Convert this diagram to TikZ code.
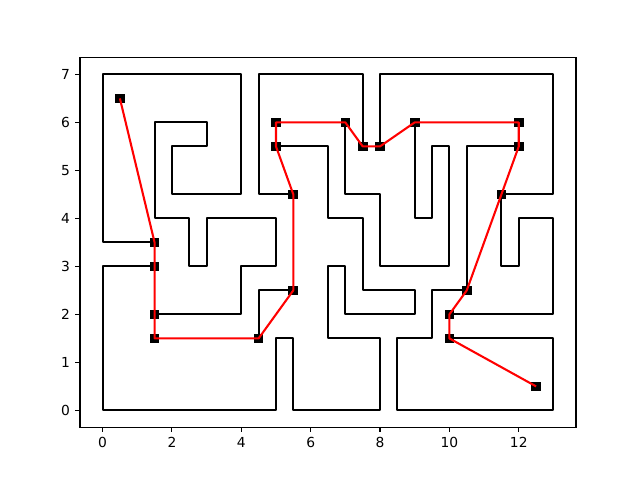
\documentclass[tikz,border=0pt]{standalone}
\usepackage{fontspec}
\setmainfont{DejaVu Sans}
\tikzset{
  wall/.style   ={draw=black,line width=1.5pt,line join=round},
  route/.style  ={draw=red,line width=1.5pt,line join=round},
  waypt/.style  ={rectangle,draw=black,fill=black,line width=1pt,
                  minimum size=6pt,inner sep=0pt},
  spine/.style  ={draw=black,line width=0.8pt},
  ticklbl/.style={inner sep=0pt,font=\fontsize{10}{12}\selectfont}
}

\begin{document}
\begin{tikzpicture}[x=0.8810cm, y=1.2192cm]
  \useasboundingbox (-2.9566,-1.45) rectangle (15.4952,8.55);

  % maze walls
  \draw [wall] (1.5,3.5) -- (0,3.5) -- (0,7) -- (4,7) -- (4,4.5) -- (2,4.5) -- (2,5.5)
               -- (3,5.5) -- (3,6) -- (1.5,6) -- (1.5,4) -- (2.5,4) -- (2.5,3) -- (3,3)
               -- (3,4) -- (5,4) -- (5,3) -- (4,3) -- (4,2) -- (1.5,2);
  \draw [wall] (1.5,3) -- (0,3) -- (0,0) -- (5,0) -- (5,1.5) -- (5.5,1.5) -- (5.5,0)
               -- (8,0) -- (8,1.5) -- (6.5,1.5) -- (6.5,3) -- (7,3) -- (7,2) -- (9,2)
               -- (9,2.5) -- (7.5,2.5) -- (7.5,4) -- (6.5,4) -- (6.5,5.5) -- (5,5.5);
  \draw [wall] (4.5,1.5) -- (4.5,2.5) -- (5.5,2.5);
  \draw [wall] (5.5,4.5) -- (4.5,4.5) -- (4.5,7) -- (7.5,7) -- (7.5,5.5);
  \draw [wall] (7,6) -- (7,4.5) -- (8,4.5) -- (8,3) -- (10,3) -- (10,5.5) -- (9.5,5.5)
               -- (9.5,4) -- (9,4) -- (9,6);
  \draw [wall] (8,5.5) -- (8,7) -- (13,7) -- (13,4.5) -- (11.5,4.5) -- (11.5,3) -- (12,3)
               -- (12,4) -- (13,4) -- (13,2) -- (10,2);
  \draw [wall] (12,5.5) -- (10.5,5.5) -- (10.5,2.5) -- (9.5,2.5) -- (9.5,1.5) -- (8.5,1.5)
               -- (8.5,0) -- (13,0) -- (13,1.5) -- (10,1.5);

  % path through the maze
  \foreach \px/\py [count=\i] in {0.5/6.5, 1.5/3.5, 1.5/3, 1.5/2, 1.5/1.5, 4.5/1.5,
      5.5/2.5, 5.5/4.5, 5/5.5, 5/6, 7/6, 7.5/5.5, 8/5.5, 9/6, 12/6, 12/5.5,
      11.5/4.5, 10.5/2.5, 10/2, 10/1.5, 12.5/0.5}
    \node [waypt] (w\i) at (\px,\py) {};
  \draw [route] (w1.center) \foreach \i in {2,...,21} { -- (w\i.center) };

  % axes
  \draw [spine] (-0.65,-0.35) rectangle (13.65,7.35);
  \foreach \x in {0,2,...,12} {
    \draw [spine] (\x,-0.35) -- ++(0,-3.5pt);
    \node [ticklbl, anchor=north] (xl\x) at ([yshift=-7pt]\x,-0.35) {\x};
  }
  \foreach \y in {0,...,7} {
    \draw [spine] (-0.65,\y) -- ++(-3.5pt,0);
    \node [ticklbl, anchor=east] (yl\y) at ([xshift=-7pt]-0.65,\y) {\y};
  }
\end{tikzpicture}
\end{document}
